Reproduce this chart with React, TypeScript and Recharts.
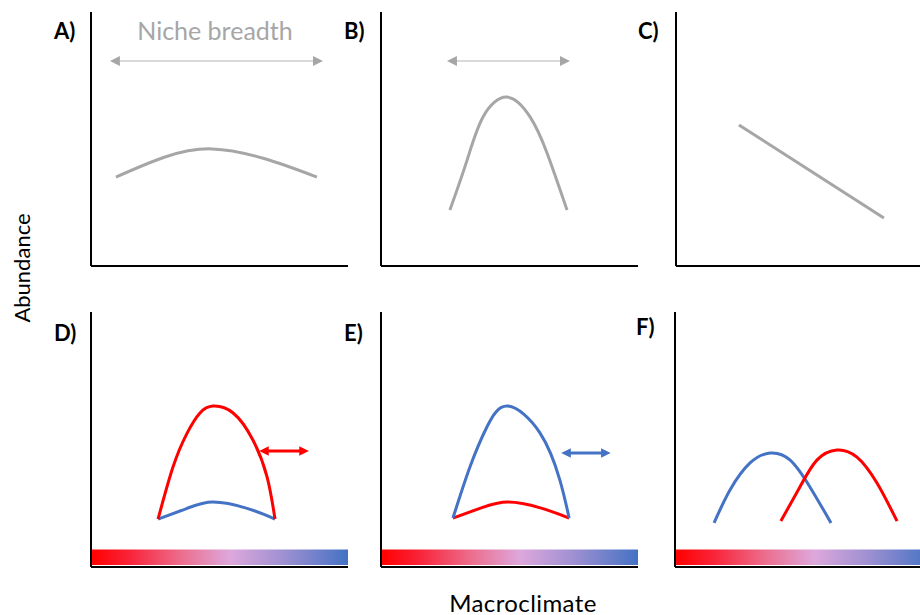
import React from 'react'
import { ComposedChart, Line, XAxis, YAxis, ReferenceArea, ReferenceLine } from 'recharts'

// all panels share a 0–10 × 0–10 conceptual space (macroclimate vs abundance)
const PLOT_W = 257
const PLOT_H = 254
const M = 2

const GREY = '#A6A6A6'
const LIGHT_GREY = '#D9D9D9'
const RED = '#FF0000'
const BLUE = '#4472C4'

// A) broad niche
const nicheBroad = [
  { x: 0.97, y: 3.5 },
  { x: 2.88, y: 4.29 },
  { x: 4.71, y: 4.61 },
  { x: 6.77, y: 4.22 },
  { x: 8.79, y: 3.5 },
]
const breadthBroad = [{ x: 0.93, y: 8.07 }, { x: 8.83, y: 8.07 }]

// B) narrow niche
const nicheNarrow = [
  { x: 2.68, y: 2.2 },
  { x: 3.35, y: 4.17 },
  { x: 3.97, y: 5.87 },
  { x: 4.9, y: 6.65 },
  { x: 5.8, y: 5.87 },
  { x: 6.46, y: 4.45 },
  { x: 7.24, y: 2.2 },
]
const breadthNarrow = [{ x: 2.76, y: 8.07 }, { x: 7.16, y: 8.07 }]

// C) monotonic decline
const decline = [{ x: 2.45, y: 5.55 }, { x: 8.09, y: 1.89 }]

// D) warm-adapted population peaks high, cool one stays low
const dHigh = [
  { x: 2.61, y: 1.88 },
  { x: 3.19, y: 3.92 },
  { x: 3.74, y: 5.25 },
  { x: 4.24, y: 6.04 },
  { x: 4.75, y: 6.31 },
  { x: 5.53, y: 6.04 },
  { x: 6.3, y: 4.98 },
  { x: 6.85, y: 3.53 },
  { x: 7.16, y: 1.88 },
]
const dLow = [
  { x: 2.61, y: 1.88 },
  { x: 3.74, y: 2.3 },
  { x: 4.75, y: 2.55 },
  { x: 6.07, y: 2.3 },
  { x: 7.16, y: 1.88 },
]
const dShift = [{ x: 6.73, y: 4.55 }, { x: 8.29, y: 4.55 }]

// E) the reverse
const eHigh = [
  { x: 2.8, y: 1.92 },
  { x: 3.46, y: 3.92 },
  { x: 4.12, y: 5.49 },
  { x: 4.94, y: 6.31 },
  { x: 6.19, y: 5.25 },
  { x: 6.96, y: 3.41 },
  { x: 7.32, y: 1.92 },
]
const eLow = [
  { x: 2.8, y: 1.92 },
  { x: 3.9, y: 2.32 },
  { x: 4.94, y: 2.55 },
  { x: 6.2, y: 2.32 },
  { x: 7.32, y: 1.92 },
]
const eShift = [{ x: 7.2, y: 4.47 }, { x: 8.75, y: 4.47 }]

// F) two displaced niches
const fCool = [
  { x: 1.52, y: 1.73 },
  { x: 2.14, y: 3.02 },
  { x: 2.92, y: 4.08 },
  { x: 3.7, y: 4.47 },
  { x: 4.47, y: 4.2 },
  { x: 5.25, y: 3.14 },
  { x: 6.07, y: 1.73 },
]
const fWarm = [
  { x: 4.12, y: 1.8 },
  { x: 4.86, y: 3.14 },
  { x: 5.53, y: 4.2 },
  { x: 6.3, y: 4.59 },
  { x: 7.08, y: 4.31 },
  { x: 7.86, y: 3.29 },
  { x: 8.64, y: 1.8 },
]

const GRADIENT_STOPS = [
  { offset: 0, color: '#FF0000' },
  { offset: 0.15, color: '#F8253A' },
  { offset: 0.35, color: '#EC6E8E' },
  { offset: 0.54, color: '#DDA8DC' },
  { offset: 0.75, color: '#9E90D2' },
  { offset: 1, color: '#4472C4' },
]

type Pt = { x: number; y: number }
type Series = { data: Pt[]; color: string; width: number; arrow?: string; linear?: boolean }

function Panel({ left, top, height, series, gradient }: {
  left: number; top: number; height: number; series: Series[]; gradient?: boolean
}) {
  return (
    <div style={{ position: 'absolute', left: left - M, top: top - M }}>
      <ComposedChart width={PLOT_W + 2 * M} height={height + 2 * M} margin={{ top: M, right: M, bottom: M, left: M }}>
        <defs>
          <linearGradient id="climate" x1="0" y1="0" x2="1" y2="0">
            {GRADIENT_STOPS.map((s) => <stop key={s.offset} offset={s.offset} stopColor={s.color} />)}
          </linearGradient>
          <marker id="head-grey" viewBox="0 0 10 10" refX="5" refY="5" markerWidth="5" markerHeight="5" orient="auto-start-reverse" markerUnits="strokeWidth">
            <path d="M0,0 L10,5 L0,10 z" fill={GREY} />
          </marker>
          <marker id="head-red" viewBox="0 0 10 10" refX="5" refY="5" markerWidth="3.2" markerHeight="3.2" orient="auto-start-reverse" markerUnits="strokeWidth">
            <path d="M0,0 L10,5 L0,10 z" fill={RED} />
          </marker>
          <marker id="head-blue" viewBox="0 0 10 10" refX="5" refY="5" markerWidth="3.2" markerHeight="3.2" orient="auto-start-reverse" markerUnits="strokeWidth">
            <path d="M0,0 L10,5 L0,10 z" fill={BLUE} />
          </marker>
        </defs>
        <XAxis type="number" dataKey="x" domain={[0, 10]} allowDataOverflow hide />
        <YAxis type="number" dataKey="y" domain={[0, 10]} allowDataOverflow hide />
        {gradient && (
          <ReferenceArea x1={0.04} x2={10} y1={0.08} y2={0.69} fill="url(#climate)" fillOpacity={1} stroke="none" ifOverflow="hidden" />
        )}
        {/* bare axes, no ticks */}
        <ReferenceLine x={0} stroke="#000" strokeWidth={2} ifOverflow="visible" />
        <ReferenceLine y={0} stroke="#000" strokeWidth={2} ifOverflow="visible" />
        {series.map((s, i) => (
          <Line
            key={i}
            data={s.data}
            dataKey="y"
            type={s.linear ? 'linear' : 'natural'}
            stroke={s.color}
            strokeWidth={s.width}
            dot={false}
            activeDot={false}
            isAnimationActive={false}
            markerStart={s.arrow ? `url(#${s.arrow})` : undefined}
            markerEnd={s.arrow ? `url(#${s.arrow})` : undefined}
          />
        ))}
      </ComposedChart>
    </div>
  )
}

const panelLabel: React.CSSProperties = {
  position: 'absolute',
  fontFamily: 'Lato, "Open Sans", sans-serif',
  fontWeight: 700,
  fontSize: 22,
  color: '#000',
  lineHeight: 1,
}

export default function App() {
  return (
    <div style={{ position: 'fixed', left: 0, top: 0, width: 920, height: 615, overflow: 'hidden', background: '#fff' }}>
      <Panel left={91} top={12} height={PLOT_H} series={[
        { data: breadthBroad, color: LIGHT_GREY, width: 2, arrow: 'head-grey', linear: true },
        { data: nicheBroad, color: GREY, width: 3 },
      ]} />
      <Panel left={381} top={12} height={PLOT_H} series={[
        { data: breadthNarrow, color: LIGHT_GREY, width: 2, arrow: 'head-grey', linear: true },
        { data: nicheNarrow, color: GREY, width: 3 },
      ]} />
      <Panel left={676} top={12} height={PLOT_H} series={[
        { data: decline, color: GREY, width: 3, linear: true },
      ]} />

      <Panel left={91} top={312} height={255} gradient series={[
        { data: dLow, color: BLUE, width: 3 },
        { data: dHigh, color: RED, width: 3 },
        { data: dShift, color: RED, width: 3, arrow: 'head-red', linear: true },
      ]} />
      <Panel left={381} top={312} height={255} gradient series={[
        { data: eLow, color: RED, width: 3 },
        { data: eHigh, color: BLUE, width: 3 },
        { data: eShift, color: BLUE, width: 3, arrow: 'head-blue', linear: true },
      ]} />
      <Panel left={675} top={312} height={255} gradient series={[
        { data: fCool, color: BLUE, width: 3 },
        { data: fWarm, color: RED, width: 3 },
      ]} />

      <div style={{ ...panelLabel, left: 54, top: 20 }}>A)</div>
      <div style={{ ...panelLabel, left: 344, top: 20 }}>B)</div>
      <div style={{ ...panelLabel, left: 638, top: 20 }}>C)</div>
      <div style={{ ...panelLabel, left: 54, top: 322 }}>D)</div>
      <div style={{ ...panelLabel, left: 344, top: 322 }}>E)</div>
      <div style={{ ...panelLabel, left: 636, top: 316 }}>F)</div>

      <div style={{ position: 'absolute', left: 105, top: 18, width: 220, textAlign: 'center', fontFamily: 'Lato, sans-serif', fontSize: 25, color: GREY, lineHeight: 1 }}>
        Niche breadth
      </div>
      <div style={{ position: 'absolute', left: 423, top: 593, width: 200, textAlign: 'center', fontFamily: 'Lato, sans-serif', fontSize: 24, letterSpacing: 0.4, color: '#000', lineHeight: 0.8 }}>
        Macroclimate
      </div>
      <div style={{ position: 'absolute', left: 22, top: 268, transform: 'translate(-50%, -50%) rotate(-90deg)', fontFamily: 'Lato, sans-serif', fontSize: 22, color: '#000', lineHeight: 1, whiteSpace: 'nowrap' }}>
        Abundance
      </div>
    </div>
  )
}
